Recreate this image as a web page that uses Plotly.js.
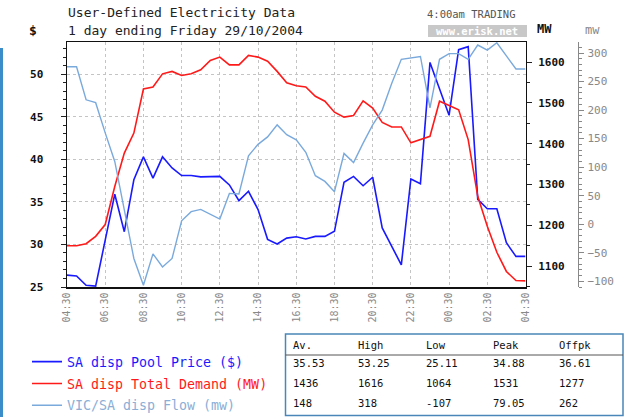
<!DOCTYPE html>
<html><head><meta charset="utf-8">
<script src="https://cdn.plot.ly/plotly-3.0.1.min.js"></script>
<style>html,body{margin:0;padding:0;background:#fff;}#chart{width:625px;height:417px;}</style>
</head><body><div id="chart"></div>
<script>
const times = [
 "2004-10-28 04:30","2004-10-28 05:00","2004-10-28 05:30","2004-10-28 06:00","2004-10-28 06:30","2004-10-28 07:00",
 "2004-10-28 07:30","2004-10-28 08:00","2004-10-28 08:30","2004-10-28 09:00","2004-10-28 09:30","2004-10-28 10:00",
 "2004-10-28 10:30","2004-10-28 11:00","2004-10-28 11:30","2004-10-28 12:00","2004-10-28 12:30","2004-10-28 13:00",
 "2004-10-28 13:30","2004-10-28 14:00","2004-10-28 14:30","2004-10-28 15:00","2004-10-28 15:30","2004-10-28 16:00",
 "2004-10-28 16:30","2004-10-28 17:00","2004-10-28 17:30","2004-10-28 18:00","2004-10-28 18:30","2004-10-28 19:00",
 "2004-10-28 19:30","2004-10-28 20:00","2004-10-28 20:30","2004-10-28 21:00","2004-10-28 21:30","2004-10-28 22:00",
 "2004-10-28 22:30","2004-10-28 23:00","2004-10-28 23:30","2004-10-29 00:00","2004-10-29 00:30","2004-10-29 01:00",
 "2004-10-29 01:30","2004-10-29 02:00","2004-10-29 02:30","2004-10-29 03:00","2004-10-29 03:30","2004-10-29 04:00",
 "2004-10-29 04:30"];
const price = [26.4,26.3,25.2,25.11,30.5,35.9,31.5,37.6,40.3,37.8,40.3,39.0,
 38.1,38.1,37.95,37.95,38.0,37.0,35.15,36.25,34.1,30.6,30.05,30.75,
 30.9,30.65,30.95,30.95,31.55,37.3,38.0,36.9,37.9,31.95,29.8,27.6,
 37.7,37.15,51.4,48.2,45.2,52.9,53.25,35.3,34.2,34.2,30.2,28.6,28.6];
const demand = [1150,1150,1155,1173,1202,1295,1377,1426,1534,1539,1571,1577,
 1567,1571,1581,1604,1612,1593,1593,1616,1612,1602,1577,1549,
 1542,1539,1516,1504,1477,1465,1469,1505,1487,1452,1441,1441,
 1402,1410,1418,1504,1493,1483,1410,1271,1198,1134,1087,1065,1064];
const flow = [276,276,218,213,160,110,25,-60,-107,-52,-75,-60,
 6,22,26,17,9,54,53,120,140,153,174,157,
 148,126,85,75,57,124,108,142,174,200,247,289,
 291,294,204,289,299,299,289,314,305,318,295,272,272];
const seriesNames = ["SA disp Pool Price ($)","SA disp Total Demand (MW)","VIC/SA disp Flow (mw)"];
const statHeaders = ["Av.","High","Low","Peak","Offpk"];
const statPrice = ["35.53","53.25","25.11","34.88","36.61"];
const statDemand = ["1436","1616","1064","1531","1277"];
const statFlow = ["148","318","-107","79.05","262"];

const W=625,H=417,ML=67,MR=40,MT=42,MB=130;
const PW=W-ML-MR, PH=H-MT-MB;
const px = x => (x-ML)/PW, py = y => 1-(y-MT)/PH;
const MONO = "DejaVu Sans Mono";
const cBlue="#1a1aff", cRed="#ff1a1a", cLight="#7aa9dc";

const traces = [
 {x:times,y:price,type:"scatter",mode:"lines",legendgroup:"a",name:'<span style="color:'+cBlue+'">'+seriesNames[0]+'</span>',line:{color:cBlue,width:1.6},yaxis:"y"},
 {x:times,y:demand,type:"scatter",mode:"lines",legendgroup:"b",name:'<span style="color:'+cRed+'">'+seriesNames[1]+'</span>',line:{color:cRed,width:1.6},yaxis:"y2"},
 {x:times,y:flow,type:"scatter",mode:"lines",legendgroup:"c",name:'<span style="color:#8aaed6">'+seriesNames[2]+'</span>',line:{color:cLight,width:1.4},yaxis:"y3"}
];

const ann = [];
function txt(t,x,y,opts){ann.push(Object.assign({text:t,x:px(x),y:py(y),xref:"paper",yref:"paper",showarrow:false,xanchor:"left",yanchor:"middle",font:{family:MONO,size:13,color:"#222"}},opts||{}));}
txt("User-Defined Electricity Data",66,13);
txt("1 day ending Friday 29/10/2004",66,30);
txt("$",33,30,{xanchor:"center",font:{family:MONO,size:13,color:"#111",weight:"bold"}});
txt("4:00am TRADING",518,14,{xanchor:"right",font:{family:MONO,size:10.5,color:"#555"}});
txt("www.erisk.net",477,31,{xanchor:"center",font:{family:MONO,size:10.5,color:"#fff",weight:"bold"}});
txt("MW",544,29,{xanchor:"center",font:{family:MONO,size:12,color:"#111",weight:"bold"}});
txt("mw",592,30,{xanchor:"center",font:{family:MONO,size:12,color:"#888"}});
const colX=[291,356,424,491,557];
const rows=[statHeaders,statPrice,statDemand,statFlow];
const rowY=[345,363,383,403];
rows.forEach((r,ri)=>r.forEach((v,ci)=>txt(v,colX[ci],rowY[ri],{font:{family:MONO,size:10.5,color:"#111"}})));

const shapes = [
 {type:"rect",xref:"paper",yref:"paper",x0:px(428),x1:px(527),y0:py(25),y1:py(37),fillcolor:"#c8c8c8",line:{width:0},layer:"below"},
 {type:"line",xref:"paper",yref:"paper",x0:px(1.5),x1:px(1.5),y0:py(48),y1:py(417),line:{color:"#3a8dc8",width:3}},
 {type:"rect",xref:"paper",yref:"paper",x0:px(285.5),x1:px(623),y0:py(334),y1:py(415.5),line:{color:"#4a86b8",width:1.5}},
 {type:"line",xref:"paper",yref:"paper",x0:px(285.5),x1:px(623),y0:py(355),y1:py(355),line:{color:"#555",width:1}}
];

const tickBold = {family:MONO,size:11,color:"#111",weight:"bold"};
const layout = {
 width:W,height:H,margin:{l:ML,r:MR,t:MT,b:MB,pad:0,autoexpand:false},
 paper_bgcolor:"#fff",plot_bgcolor:"#fff",
 showlegend:true,
 legend:{x:px(27),y:py(346.5),xanchor:"left",yanchor:"top",font:{family:MONO,size:13.3},bgcolor:"rgba(0,0,0,0)",borderwidth:0,tracegroupgap:1.5},
 xaxis:{domain:[0,(525.5-ML)/PW],type:"date",range:[times[0],times[times.length-1]],
  tick0:times[0],dtick:7200000,tickformat:"%H:%M",tickangle:-90,
  tickfont:{family:MONO,size:10,color:"#888"},ticks:"",
  showline:true,linecolor:"#111",linewidth:1.5,mirror:true,
  showgrid:true,gridcolor:"#c4c4c4",griddash:"dot",gridwidth:1,zeroline:false},
 yaxis:{range:[25,53.8],tick0:25,dtick:5,ticks:"outside",ticklen:5,tickcolor:"#222",
  minor:{dtick:1,tick0:25,ticks:"outside",ticklen:3,tickcolor:"#222",showgrid:false},
  tickfont:tickBold,ticklabelstandoff:15,showline:true,linecolor:"#111",linewidth:1.5,mirror:true,
  showgrid:true,gridcolor:"#c4c4c4",griddash:"dot",gridwidth:1,zeroline:false},
 yaxis2:{overlaying:"y",side:"right",anchor:"x",range:[1049,1649],tick0:1000,dtick:100,
  ticks:"outside",ticklen:5,tickcolor:"#222",
  minor:{dtick:50,tick0:1000,ticks:"outside",ticklen:3,tickcolor:"#222",showgrid:false},
  tickfont:tickBold,ticklabelstandoff:4,showline:true,linecolor:"#111",linewidth:1.5,showgrid:false,zeroline:false},
 yaxis3:{overlaying:"y",side:"right",anchor:"free",position:(577.7-ML)/PW,range:[-110,319.3],tick0:0,dtick:50,
  ticks:"outside",ticklen:5,tickcolor:"#888",
  minor:{dtick:10,tick0:0,ticks:"outside",ticklen:3,tickcolor:"#888",showgrid:false},
  tickfont:{family:MONO,size:11,color:"#888"},ticklabelstandoff:1,showline:true,linecolor:"#888",linewidth:1.5,showgrid:false,zeroline:false},
 annotations:ann,shapes:shapes
};
Plotly.newPlot("chart",traces,layout,{displayModeBar:false,staticPlot:true});
</script></body></html>
